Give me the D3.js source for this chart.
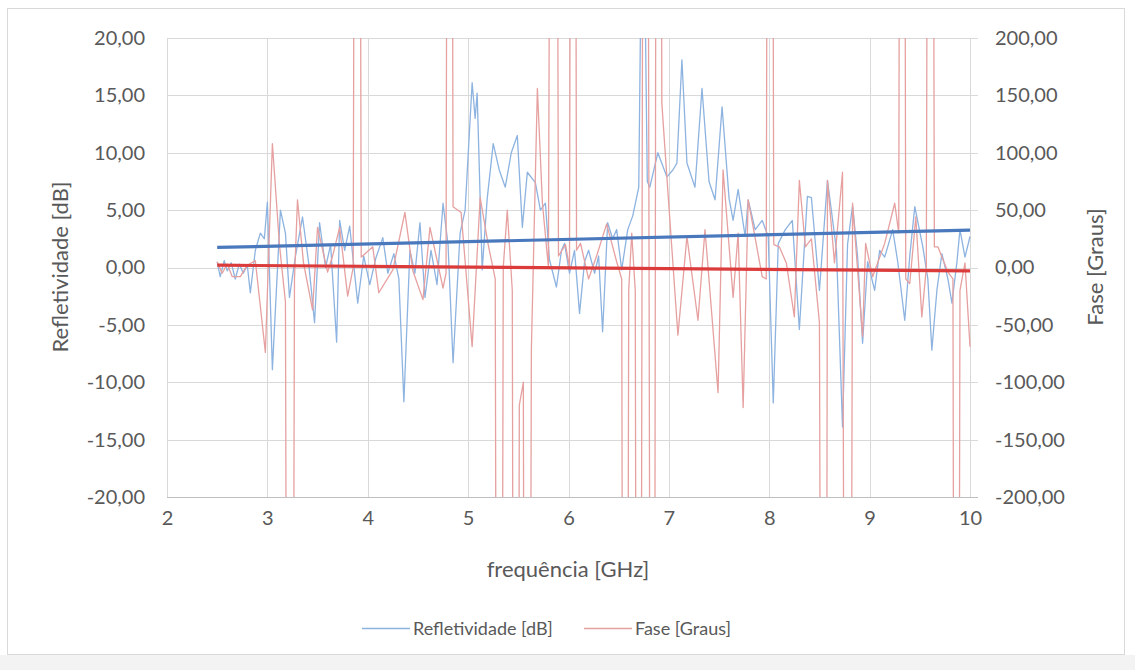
<!DOCTYPE html>
<html><head><meta charset="utf-8">
<script src="https://cdn.jsdelivr.net/npm/d3@7"></script>
<style>
body{margin:0;background:#fff;}
svg{display:block;font-family:Lato,"Open Sans",sans-serif;}
</style></head>
<body><svg id="c" width="1135" height="670"></svg>
<script>
// frequency ticks and axis ranges
const xTicks = [2,3,4,5,6,7,8,9,10];
const leftTicks = [-20,-15,-10,-5,0,5,10,15,20];
const rightTicks = [-200,-150,-100,-50,0,50,100,150,200];

// Refletividade [dB]
const reflFreq = [2.50,2.53,2.57,2.60,2.64,2.68,2.72,2.76,2.80,2.83,2.88,2.93,2.97,3.00,3.05,3.13,3.18,3.22,3.28,3.35,3.41,3.47,3.52,3.58,3.63,3.69,3.72,3.77,3.82,3.90,3.96,4.02,4.08,4.15,4.20,4.26,4.31,4.36,4.42,4.47,4.52,4.57,4.63,4.69,4.75,4.80,4.85,4.92,4.97,5.04,5.07,5.09,5.14,5.19,5.25,5.31,5.37,5.43,5.49,5.54,5.59,5.67,5.72,5.77,5.81,5.88,5.93,5.96,6.01,6.06,6.11,6.16,6.20,6.26,6.30,6.34,6.39,6.44,6.48,6.53,6.59,6.64,6.70,6.74,6.785,6.81,6.89,6.98,7.04,7.08,7.13,7.18,7.26,7.33,7.40,7.46,7.53,7.60,7.64,7.69,7.76,7.79,7.86,7.93,7.99,8.04,8.09,8.16,8.23,8.30,8.38,8.42,8.50,8.58,8.67,8.73,8.78,8.83,8.88,8.93,8.98,9.05,9.10,9.15,9.23,9.28,9.35,9.40,9.45,9.53,9.58,9.62,9.67,9.72,9.78,9.82,9.87,9.90,9.95,10.00];
const reflDb = [0.5,-0.8,0.6,-0.3,0.4,-1.0,0.3,-0.5,0.2,-2.2,1.5,3.0,2.5,5.7,-8.9,5.0,3.0,-2.6,1.0,4.4,0.5,-4.8,3.9,0.0,2.0,-6.5,4.1,1.5,3.6,-3.1,1.0,-1.5,0.8,2.6,-0.5,1.2,-1.0,-11.7,1.5,-0.5,3.9,-2.6,1.5,-1.5,5.6,2.0,-8.3,3.0,5.0,16.1,13.0,15.2,-0.2,6.0,10.8,8.5,7.0,10.0,11.5,3.5,8.3,7.4,5.0,5.6,0.7,-1.7,1.5,2.1,-0.5,1.5,-4.0,0.5,1.5,-0.5,1.0,-5.6,3.9,2.5,3.3,-0.2,3.3,4.5,7.0,40.0,7.5,7.0,10.0,7.9,8.5,9.1,18.1,9.1,7.0,15.6,7.5,5.9,14.0,6.0,4.1,6.8,2.7,5.9,3.3,4.1,2.7,-11.8,2.1,3.3,4.1,-5.4,6.2,6.1,-2.0,7.6,1.5,-13.9,2.0,5.4,1.0,-6.6,0.5,-2.0,1.5,0.9,3.3,0.5,-4.6,1.0,5.3,1.8,-1.0,-7.2,-2.0,1.2,-1.0,-3.1,0.5,3.3,0.9,2.7];

// Fase [Graus]
const faseFreq = [2.50,2.55,2.60,2.65,2.73,2.80,2.88,2.98,3.05,3.12,3.18,3.225,3.27,3.30,3.36,3.45,3.50,3.60,3.65,3.72,3.80,3.855,3.895,3.935,4.05,4.11,4.25,4.37,4.45,4.55,4.62,4.75,4.78,4.815,4.85,4.93,5.04,5.12,5.20,5.27,5.31,5.35,5.39,5.44,5.475,5.51,5.55,5.585,5.63,5.69,5.74,5.80,5.855,5.90,5.97,6.01,6.045,6.08,6.12,6.20,6.28,6.38,6.48,6.53,6.565,6.60,6.63,6.665,6.70,6.765,6.84,6.89,6.93,6.98,7.09,7.18,7.29,7.36,7.49,7.54,7.64,7.69,7.74,7.79,7.93,7.97,8.005,8.045,8.10,8.17,8.25,8.30,8.36,8.42,8.50,8.55,8.58,8.65,8.73,8.785,8.83,8.93,8.96,9.03,9.15,9.25,9.29,9.325,9.36,9.40,9.46,9.52,9.565,9.605,9.645,9.68,9.78,9.83,9.865,9.90,9.95,10.00];
const faseDeg = [5,-5,3,-8,-8,2,6,-74,108,20,-30,-1500,-10,59,4,-37,35,-4,10,35,-25,0,1500,9,18,-22,-2,48,-3,-28,35,-18,-5,1500,53,48,-69,61,20,-10,-1500,0,50,-20,-1500,-120,-100,-1500,-72,156,56,0,1500,10,20,0,1500,15,21,-10,10,38,5,-10,-1500,-20,30,-20,-1500,1500,-1500,1500,143,79,-59,27,-46,33,-109,85,-26,30,-122,59,-8,-10,1500,20,18,4,-43,76,18,25,-48,-1500,76,4,83,-1500,56,-60,21,-8,21,56,30,1500,-10,-14,44,-43,0,1500,18,18,-4,-10,-1500,-20,4,-69];

// linear trend lines (start/end)
const trendFreq = [2.5, 10];
const reflTrend = [1.75, 3.25];
const faseTrend = [2, -3];

const fmt = d => d.toFixed(2).replace('.', ',');

const svg = d3.select('#c');
const L = 167, R = 970, T = 38, B = 497;
const x = d3.scaleLinear().domain([2,10]).range([L,R]);
const yL = d3.scaleLinear().domain([-20,20]).range([B,T]);
const yR = d3.scaleLinear().domain([-200,200]).range([B,T]);

// chart area
svg.append('rect').attr('x',0).attr('y',655).attr('width',1135).attr('height',15).attr('fill','#f3f3f3');
svg.append('rect').attr('x',7.5).attr('y',8.5).attr('width',1117).attr('height',646)
  .attr('fill','#fff').attr('stroke','#d9d9d9');

const grid = '#d9d9d9';
// horizontal gridlines
svg.append('g').selectAll('line').data(leftTicks).join('line')
  .attr('x1',L).attr('x2',R+8).attr('y1',d=>Math.round(yL(d))+0.5).attr('y2',d=>Math.round(yL(d))+0.5)
  .attr('stroke', d => d===-20 ? '#bfbfbf' : grid).attr('stroke-width',1);
// vertical gridlines
svg.append('g').selectAll('line').data(xTicks).join('line')
  .attr('x1',d=>Math.round(x(d))+0.5).attr('x2',d=>Math.round(x(d))+0.5).attr('y1',T).attr('y2',B)
  .attr('stroke',grid).attr('stroke-width',1);

// axes
const axL = svg.append('g').attr('transform',`translate(${L},0)`)
  .call(d3.axisLeft(yL).tickValues(leftTicks).tickFormat(fmt).tickSize(0).tickPadding(22));
const axR = svg.append('g').attr('transform',`translate(${R},0)`)
  .call(d3.axisRight(yR).tickValues(rightTicks).tickFormat(fmt).tickSize(0).tickPadding(25));
const axB = svg.append('g').attr('transform',`translate(0,${B})`)
  .call(d3.axisBottom(x).tickValues(xTicks).tickFormat(d3.format('d')).tickSize(0).tickPadding(14));
[axL,axR,axB].forEach(a=>{
  a.select('.domain').remove();
  a.selectAll('text').attr('font-size',20).attr('fill','#595959').attr('font-family','Lato,"Open Sans",sans-serif');
});

// clip
svg.append('clipPath').attr('id','pc').append('rect').attr('x',L).attr('y',T).attr('width',R-L+1).attr('height',B-T);
const plot = svg.append('g').attr('clip-path','url(#pc)');

const reflData = reflFreq.map((f,i)=>[f,reflDb[i]]);
const faseData = faseFreq.map((f,i)=>[f,faseDeg[i]]);
const lineL = d3.line().x(d=>x(d[0])).y(d=>yL(d[1]));
const lineR = d3.line().x(d=>x(d[0])).y(d=>yR(d[1]));

plot.append('path').datum(reflData).attr('d',lineL).attr('fill','none')
  .attr('stroke','#8db3e0').attr('stroke-width',1.3).attr('stroke-linejoin','round');
plot.append('path').datum(faseData).attr('d',lineR).attr('fill','none')
  .attr('stroke','#e6a0a0').attr('stroke-width',1.3).attr('stroke-linejoin','round');

plot.append('path').datum(trendFreq.map((f,i)=>[f,reflTrend[i]])).attr('d',lineL)
  .attr('fill','none').attr('stroke','#4a78bd').attr('stroke-width',3.2);
plot.append('path').datum(trendFreq.map((f,i)=>[f,faseTrend[i]])).attr('d',lineR)
  .attr('fill','none').attr('stroke','#dc3b3b').attr('stroke-width',3.2);

// axis titles
svg.append('text').attr('transform','translate(68,267) rotate(-90)').attr('text-anchor','middle')
  .attr('font-size',22).attr('fill','#595959').text('Refletividade [dB]');
svg.append('text').attr('transform','translate(1103,267) rotate(-90)').attr('text-anchor','middle')
  .attr('font-size',22).attr('fill','#595959').text('Fase [Graus]');
svg.append('text').attr('x',568).attr('y',577).attr('text-anchor','middle')
  .attr('font-size',22).attr('fill','#595959').text('frequência [GHz]');

// legend
const lg = svg.append('g').attr('font-size',18).attr('fill','#595959');
lg.append('line').attr('x1',362).attr('x2',410).attr('y1',628.5).attr('y2',628.5).attr('stroke','#8db3e0').attr('stroke-width',1.5);
lg.append('text').attr('x',413).attr('y',635).text('Refletividade [dB]');
lg.append('line').attr('x1',584).attr('x2',632).attr('y1',628.5).attr('y2',628.5).attr('stroke','#e6a0a0').attr('stroke-width',1.5);
lg.append('text').attr('x',635).attr('y',635).text('Fase [Graus]');
</script></body></html>
